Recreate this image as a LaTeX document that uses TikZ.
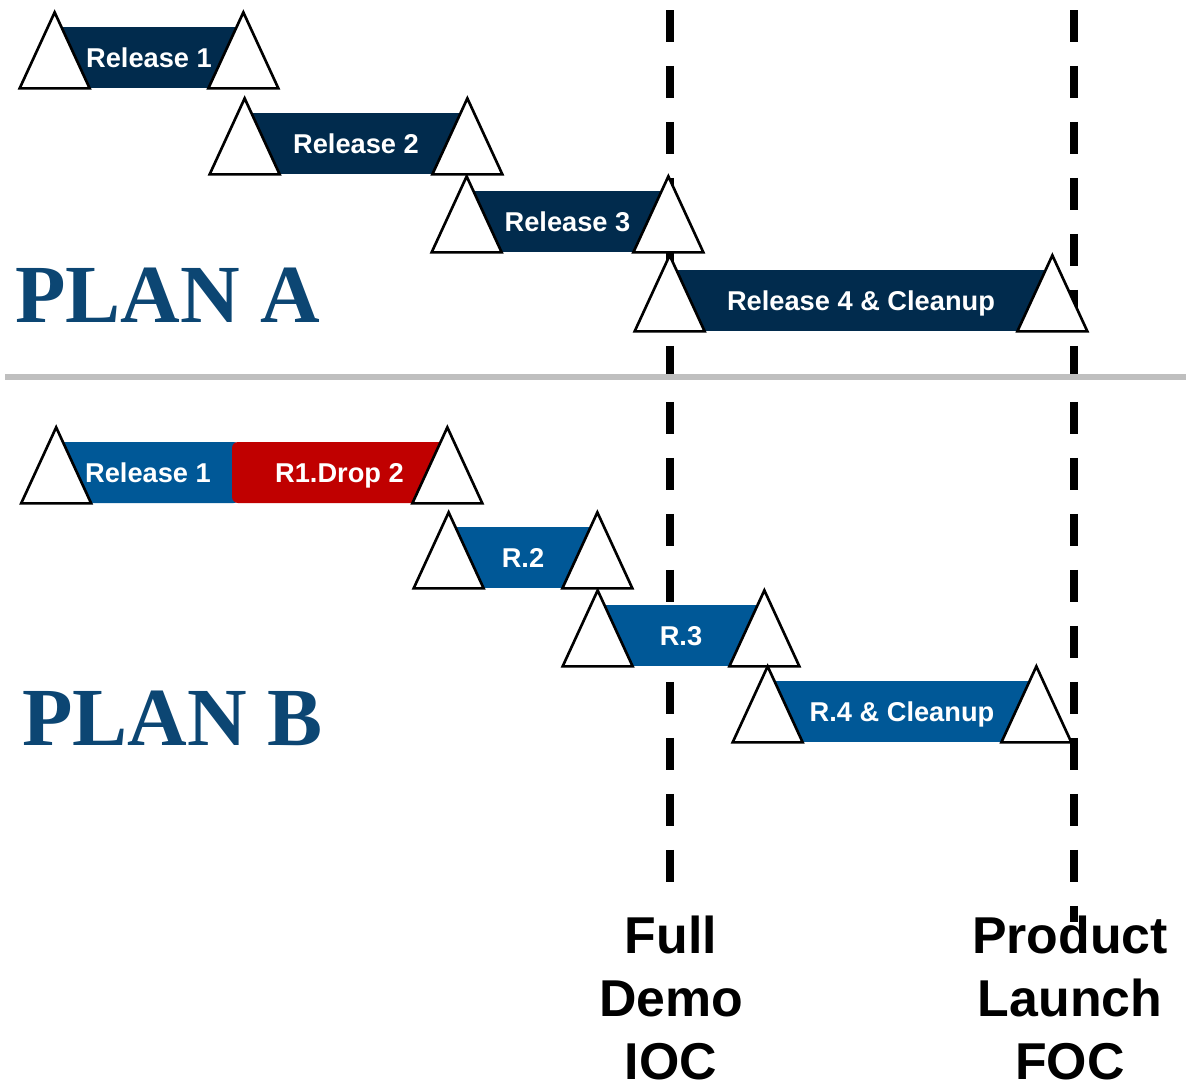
\documentclass[tikz,border=0pt]{standalone}
\usepackage{fontspec}
\setmainfont{Liberation Sans}
\newfontfamily\planfont{Liberation Serif}
\usetikzlibrary{positioning}
\definecolor{navyA}{RGB}{1,43,77}
\definecolor{blueB}{RGB}{0,88,151}
\definecolor{redB}{RGB}{192,0,0}
\definecolor{planblue}{RGB}{12,70,115}
\definecolor{sepgray}{RGB}{191,191,191}
\tikzset{
  bar/.style={inner sep=0pt, minimum height=1.22cm, text height=11.1pt, text depth=0pt,
    text=white, font=\fontsize{15.5}{18}\selectfont\bfseries},
  tri/.style={draw=black, fill=white, line width=1.5pt, line join=miter},
  mstone/.pic={\draw[tri] (-35,0) -- (35,0) -- (0,-76) -- cycle;},
  deadline/.style={line width=4.5pt, dash pattern=on 0.64cm off 0.48cm},
  plan/.style={inner sep=0pt, text=planblue, font=\planfont\bfseries\fontsize{47}{50}\selectfont},
  goal/.style={anchor=north, align=center, inner sep=0pt, font=\fontsize{29.5}{35.7}\selectfont\bfseries}
}
\begin{document}
\begin{tikzpicture}[x=0.02cm, y=-0.02cm, line cap=butt]
\useasboundingbox (0,0) rectangle (1186,1086);
% milestones
\coordinate (iocT) at (670,10);  \coordinate (iocB) at (670,882);
\coordinate (focT) at (1074,10); \coordinate (focB) at (1074,922);
\draw[deadline] (iocT) -- (iocB);
\draw[deadline] (focT) -- (focB);
\coordinate (sepL) at (5,377); \coordinate (sepR) at (1186,377);
\draw[sepgray, line width=3.4pt] (sepL) -- (sepR);
% Plan A
\foreach \nm/\xa/\xb/\yb/\txt in {a1/55/243/88/Release 1, a2/245/467/174/Release 2,
    a3/467/668/252/Release 3, a4/670/1052/331/Release 4 \& Cleanup}{
  \node[bar, fill=navyA, minimum width={(\xb-\xa)*0.02cm}] (\nm) at ({(\xa+\xb)/2},\yb-30.5) {\txt};
  \pic at (\nm.south west) {mstone};
  \pic at (\nm.south east) {mstone};
}
\node[plan, anchor=base west] (planA) at (15,322) {PLAN A};
% Plan B
\node[bar, fill=blueB, rounded corners=3.4pt, minimum width=3.66cm] (b1) at (148,472.5) {Release 1};
\node[bar, fill=redB, rounded corners=3.4pt, minimum width=4.3cm] (b1d) at (339.5,472.5) {R1.Drop 2};
\pic at (b1.south west) {mstone};
\pic at (b1d.south east) {mstone};
\foreach \nm/\xa/\xb/\yb/\txt in {b2/449/597/588/R.2, b3/598/764/666/R.3,
    b4/768/1036/742/R.4 \& Cleanup}{
  \node[bar, fill=blueB, minimum width={(\xb-\xa)*0.02cm}] (\nm) at ({(\xa+\xb)/2},\yb-30.5) {\txt};
  \pic at (\nm.south west) {mstone};
  \pic at (\nm.south east) {mstone};
}
\node[plan, anchor=base west] (planB) at (22,745) {PLAN B};
% labels
\node[goal] (ioc) at (671,916) {Full\\Demo\\IOC};
\node[goal] (foc) at (1070,916) {Product\\Launch\\FOC};
\end{tikzpicture}
\end{document}
